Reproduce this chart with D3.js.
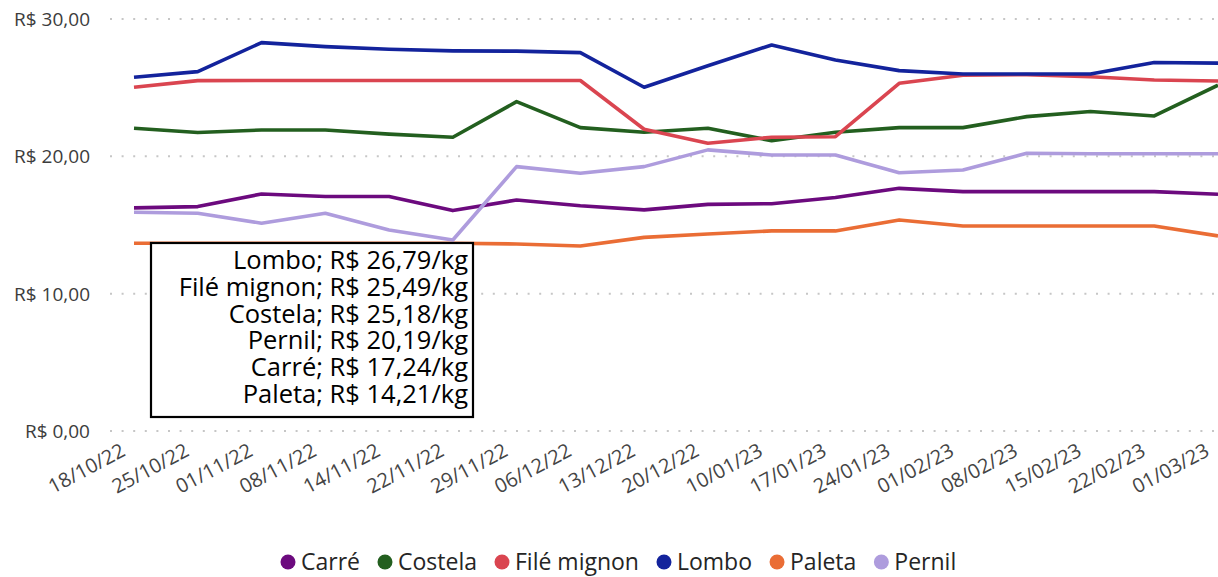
<!DOCTYPE html>
<html>
<head>
<meta charset="utf-8">
<script src="https://cdn.jsdelivr.net/npm/d3@7"></script>
<style>
  html, body { margin: 0; padding: 0; background: #fff; }
  svg { display: block; }
  .tick-label { font-family: "Open Sans", sans-serif; font-size: 19px; fill: #3c3c3c; }
  .x-label { font-family: "Open Sans", sans-serif; font-size: 20px; fill: #444; }
  .box-text { font-family: "Open Sans", sans-serif; font-size: 25.5px; fill: #000; }
  .legend-text { font-family: "Open Sans", sans-serif; font-size: 23px; fill: #252525; }
</style>
</head>
<body>
<svg id="chart"></svg>
<script>
var dates = ['18/10/22', '25/10/22', '01/11/22', '08/11/22', '14/11/22', '22/11/22',
             '29/11/22', '06/12/22', '13/12/22', '20/12/22', '10/01/23', '17/01/23',
             '24/01/23', '01/02/23', '08/02/23', '15/02/23', '22/02/23', '01/03/23'];

var carre   = [16.25, 16.34, 17.26, 17.07, 17.07, 16.05, 16.82, 16.40, 16.10, 16.50, 16.55, 17.00, 17.67, 17.43, 17.43, 17.43, 17.43, 17.24];
var costela = [22.04, 21.73, 21.92, 21.92, 21.62, 21.39, 23.98, 22.09, 21.75, 22.04, 21.14, 21.75, 22.09, 22.09, 22.89, 23.26, 22.94, 25.18];
var file    = [25.03, 25.51, 25.52, 25.52, 25.52, 25.52, 25.52, 25.52, 21.97, 20.95, 21.39, 21.43, 25.32, 25.90, 25.95, 25.80, 25.56, 25.49];
var lombo   = [25.76, 26.17, 28.28, 27.99, 27.80, 27.68, 27.66, 27.55, 25.03, 26.60, 28.11, 27.02, 26.24, 26.00, 26.00, 26.00, 26.83, 26.79];
var paleta  = [13.67, 13.67, 13.67, 13.67, 13.67, 13.67, 13.62, 13.47, 14.10, 14.35, 14.57, 14.57, 15.37, 14.93, 14.93, 14.93, 14.93, 14.21];
var pernil  = [15.93, 15.86, 15.13, 15.86, 14.64, 13.91, 19.25, 18.77, 19.25, 20.47, 20.10, 20.10, 18.81, 19.00, 20.22, 20.19, 20.19, 20.19];

var seriesNames = ['Carré', 'Costela', 'Filé mignon', 'Lombo', 'Paleta', 'Pernil'];
var seriesValues = [carre, costela, file, lombo, paleta, pernil];
var colors = ['#6c0a7e', '#235f1f', '#da4550', '#13239c', '#ea6d35', '#ae9cdd'];

var yTicks = [0, 10, 20, 30];

// labels of the box, in its own order
var boxNames = ['Lombo', 'Filé mignon', 'Costela', 'Pernil', 'Carré', 'Paleta'];

var width = 1218,
    height = 577;

var svg = d3.select('#chart')
    .attr('width', width)
    .attr('height', height);

var x = d3.scalePoint()
    .domain(dates)
    .range([134, 1218]);

var y = d3.scaleLinear()
    .domain([0, 30])
    .range([431, 19]);

var fmt = function(v) {
    return 'R$ ' + v.toFixed(2).replace('.', ',');
};

// grid lines
svg.append('g')
    .selectAll('line')
    .data(yTicks)
    .enter().append('line')
    .attr('x1', 110)
    .attr('x2', width)
    .attr('y1', function(d) { return y(d); })
    .attr('y2', function(d) { return y(d); })
    .style('stroke', '#c6c6c6')
    .style('stroke-width', 2)
    .style('stroke-dasharray', '2,9.6');

// y axis labels
var yAxis = d3.axisLeft(y)
    .tickValues(yTicks)
    .tickSize(0)
    .tickPadding(0)
    .tickFormat(fmt);

var gy = svg.append('g')
    .attr('transform', 'translate(90,0)')
    .call(yAxis);
gy.select('.domain').remove();
gy.selectAll('text')
    .attr('class', 'tick-label')
    .attr('dy', '0.35em')
    .attr('font-family', null)
    .attr('font-size', null);

// x axis labels
var xAxis = d3.axisBottom(x).tickSize(0).tickPadding(0);
var gx = svg.append('g')
    .attr('transform', 'translate(0,431)')
    .call(xAxis);
gx.select('.domain').remove();
gx.attr('font-family', null).attr('font-size', null);
gx.selectAll('text')
    .attr('class', 'x-label')
    .attr('text-anchor', 'end')
    .attr('dy', null)
    .attr('y', 0)
    .attr('transform', 'translate(-8,24) rotate(-28)');

// lines
var line = d3.line()
    .x(function(d, i) { return x(dates[i]); })
    .y(function(d) { return y(d); });

svg.append('g')
    .selectAll('path')
    .data(seriesValues)
    .enter().append('path')
    .attr('d', line)
    .style('fill', 'none')
    .style('stroke', function(d, i) { return colors[i]; })
    .style('stroke-width', 3.6)
    .style('stroke-linejoin', 'round');

// box with the last values
var box = svg.append('g');
box.append('rect')
    .attr('x', 151)
    .attr('y', 243)
    .attr('width', 322)
    .attr('height', 174)
    .style('fill', '#fff')
    .style('stroke', '#000')
    .style('stroke-width', 2.2);

box.selectAll('text')
    .data(boxNames)
    .enter().append('text')
    .attr('class', 'box-text')
    .attr('text-anchor', 'end')
    .attr('x', 468)
    .attr('y', function(d, i) { return 269 + i * 26.8; })
    .text(function(d) {
        var vals = seriesValues[seriesNames.indexOf(d)];
        return d + '; ' + fmt(vals[vals.length - 1]) + '/kg';
    });

// legend
var legend = svg.append('g');
var lx = 288;
seriesNames.forEach(function(name, i) {
    var item = legend.append('g');
    item.append('circle')
        .attr('cx', lx)
        .attr('cy', 562)
        .attr('r', 7.5)
        .style('fill', colors[i]);
    var t = item.append('text')
        .attr('class', 'legend-text')
        .attr('x', lx + 13)
        .attr('y', 570)
        .text(name);
    lx = lx + 13 + t.node().getComputedTextLength() + 25;
});
</script>
</body>
</html>
